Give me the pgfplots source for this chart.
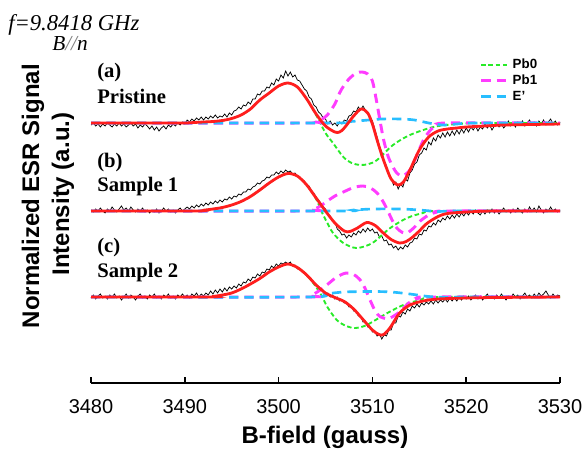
\documentclass[border=0pt]{standalone}
\usepackage{fontspec}
\setmainfont{Liberation Serif}
\setsansfont{Liberation Sans}
\usepackage{pgfplots}
\pgfplotsset{compat=1.18}
\definecolor{cred}{RGB}{255,30,30}
\definecolor{cgreen}{RGB}{40,235,40}
\definecolor{cmag}{RGB}{255,60,255}
\definecolor{ccyan}{RGB}{40,190,255}
\begin{document}
\begin{tikzpicture}[x=0.75pt,y=0.75pt]
\useasboundingbox (0,0) rectangle (588,451);
\begin{axis}[
  at={(68.25pt,51pt)}, anchor=south west,
  width=351.75pt, height=249.75pt, scale only axis,
  xmin=3480, xmax=3530, ymin=68, ymax=401,
  axis x line=bottom, axis y line=none,
  x axis line style={-, line width=1.6pt},
  xtick={3480,3490,3500,3510,3520,3530}, ytick=\empty,
  xtick align=inside, major tick length=4.5pt,
  every tick/.style={black, line width=1.3pt},
  /pgf/number format/assume math mode=true,
  /pgf/number format/1000 sep={},
  scaled x ticks=false,
  xticklabel style={font=\sffamily\fontsize{15}{18}\selectfont, yshift=-9pt},
  clip=false,
  legend style={draw=none, fill=none, at={(0.829,0.977)}, anchor=north west,
    inner sep=0pt, outer sep=0pt, column sep=1pt, row sep=1.4pt,
    font=\sffamily\bfseries\fontsize{10}{11}\selectfont,
    nodes={inner sep=0.5pt, text height=7.5pt, text depth=2pt}},
  legend cell align=left,
  legend image code/.code={\draw[#1] (0pt,0pt) -- (21pt,0pt);},
]
% ---------------- (a) Pristine ----------------
\addplot[forget plot, black, line width=0.55pt] coordinates {
(3480,326)(3480.25,328)(3480.5,325)(3480.75,327)(3481,324)(3481.25,327)(3481.5,325)(3481.75,328)
(3482,326)(3482.25,324)(3482.5,327)(3482.75,325)(3483,328)(3483.25,325)(3483.5,327)(3483.75,324)
(3484,326)(3484.25,328)(3484.5,325)(3484.75,327)(3485,323)(3485.25,326)(3485.5,324)(3485.75,327)
(3486,325)(3486.25,322)(3486.5,325)(3486.75,321)(3487,324)(3487.25,320)(3487.5,323)(3487.75,325)
(3488,322)(3488.25,326)(3488.5,324)(3488.75,327)(3489,325)(3489.25,328)(3489.5,326)(3489.75,329)
(3490,327)(3490.25,331)(3490.5,329)(3490.75,332)(3491,330)(3491.25,333)(3491.5,331)(3491.75,334)
(3492,331)(3492.25,334)(3492.5,332)(3492.75,335)(3493,333)(3493.25,336)(3493.5,333)(3493.75,335)
(3494,334)(3494.25,337)(3494.5,334)(3494.75,338)(3495,336)(3495.25,340)(3495.5,341)(3495.75,344)
(3496,342)(3496.25,346)(3496.5,345)(3496.75,349)(3497,347)(3497.25,352)(3497.5,352)(3497.75,357)
(3498,356)(3498.25,360)(3498.5,360)(3498.75,364)(3499,363)(3499.25,368)(3499.5,366)(3499.75,372)
(3500,370)(3500.25,376)(3500.5,373)(3500.75,380)(3501,375)(3501.25,379)(3501.5,374)(3501.75,376)
(3502,371)(3502.25,370)(3502.5,366)(3502.75,362)(3503,360)(3503.25,354)(3503.5,352)(3503.75,346)
(3504,344)(3504.25,339)(3504.5,337)(3504.75,333)(3505,332)(3505.25,327)(3505.5,330)(3505.75,326)
(3506,328)(3506.25,325)(3506.5,329)(3506.75,327)(3507,331)(3507.25,330)(3507.5,335)(3507.75,336)
(3508,340)(3508.25,339)(3508.5,344)(3508.75,341)(3509,345)(3509.25,341)(3509.5,339)(3509.75,334)
(3510,330)(3510.25,322)(3510.5,314)(3510.75,305)(3511,299)(3511.25,290)(3511.5,285)(3511.75,276)
(3512,273)(3512.25,266)(3512.5,269)(3512.75,262)(3513,267)(3513.25,264)(3513.5,272)(3513.75,270)
(3514,278)(3514.25,281)(3514.5,287)(3514.75,289)(3515,296)(3515.25,298)(3515.5,303)(3515.75,301)
(3516,309)(3516.25,306)(3516.5,313)(3516.75,310)(3517,316)(3517.25,313)(3517.5,318)(3517.75,314)
(3518,319)(3518.25,315)(3518.5,320)(3518.75,316)(3519,321)(3519.25,317)(3519.5,322)(3519.75,318)
(3520,323)(3520.25,319)(3520.5,324)(3520.75,321)(3521,325)(3521.25,320)(3521.5,324)(3521.75,322)
(3522,327)(3522.25,323)(3522.5,326)(3522.75,321)(3523,325)(3523.25,328)(3523.5,324)(3523.75,327)
(3524,323)(3524.25,326)(3524.5,330)(3524.75,325)(3525,328)(3525.25,324)(3525.5,329)(3525.75,326)
(3526,330)(3526.25,325)(3526.5,328)(3526.75,331)(3527,326)(3527.25,329)(3527.5,325)(3527.75,330)
(3528,327)(3528.25,331)(3528.5,326)(3528.75,329)(3529,332)(3529.25,327)(3529.5,330)(3529.75,326)
(3530,329)};
\addplot[cgreen, line width=1.4pt, dash pattern=on 3.4pt off 2pt, smooth, tension=0.5] coordinates {
(3480,328)(3490,328)(3491,328.5)(3492,329)(3493,329.5)(3494,330.5)(3495,332.5)(3496,336)(3497,342)
(3498,351)(3499,358)(3500,365)(3501,368)(3502,364)(3503,352)(3504,336)(3505,318)(3505.8,308)
(3506.9,294)(3507.8,288)(3508.7,286)(3509.6,287)(3510.5,291)(3512.2,306)(3514,316)(3516.5,324)
(3519,327)(3522,328)(3530,328)};
\addlegendentry{Pb0}
\addplot[cmag, line width=2.2pt, dash pattern=on 7pt off 4.5pt, smooth, tension=0.5] coordinates {
(3480,328)(3503,328)(3504,329)(3504.5,331)(3505.2,336)(3506,347)(3506.5,358)(3507,366)(3507.6,373)
(3508.3,378)(3508.9,379)(3509.5,377)(3510,370)(3510.4,352)(3510.8,331)(3511.2,311)(3511.7,294)
(3512.2,284)(3512.6,278)(3513.2,275)(3514,281)(3514.7,295)(3515.5,312)(3516.3,322)(3517,326)
(3518,328)(3530,328)};
\addlegendentry{Pb1}
\addplot[ccyan, line width=2pt, dash pattern=on 7pt off 4.5pt, smooth, tension=0.5] coordinates {
(3480,328)(3505,328)(3507,329)(3509,330.5)(3511,332)(3513,332)(3514.5,331)(3516,328)(3517.5,326)
(3519,327)(3521,328)(3530,328)};
\addlegendentry{E'}
\addplot[forget plot, cred, line width=2.1pt, smooth, tension=0.5] coordinates {
(3480,328)(3488,328)(3490,328)(3491,328.5)(3492,329)(3493,329.5)(3494,330.5)(3495,332.5)(3496,336)
(3497,342)(3498,351)(3499,358)(3500,365)(3501,368)(3502,364)(3503,352)(3504,337)(3505,325)
(3506,319)(3506.5,319)(3507,323)(3508,335)(3508.8,342)(3509.5,338)(3510,327)(3510.5,311)(3511,296)
(3511.5,283)(3512,272)(3512.7,266)(3513.3,269)(3514,281)(3515,301)(3516,314)(3517,320)(3518,322)
(3519,323)(3520,324)(3522,325)(3524,326)(3527,326.5)(3530,327)};
% ---------------- (b) Sample 1 ----------------
\addplot[forget plot, black, line width=0.55pt] coordinates {
(3480,241)(3480.25,239)(3480.5,242)(3480.75,240)(3481,243)(3481.25,240)(3481.5,238)(3481.75,242)
(3482,240)(3482.25,244)(3482.5,241)(3482.75,239)(3483,242)(3483.25,245)(3483.5,241)(3483.75,243)
(3484,240)(3484.25,244)(3484.5,241)(3484.75,239)(3485,242)(3485.25,240)(3485.5,243)(3485.75,239)
(3486,241)(3486.25,238)(3486.5,241)(3486.75,239)(3487,242)(3487.25,238)(3487.5,240)(3487.75,243)
(3488,240)(3488.25,242)(3488.5,239)(3488.75,241)(3489,238)(3489.25,241)(3489.5,243)(3489.75,240)
(3490,242)(3490.25,244)(3490.5,242)(3490.75,245)(3491,243)(3491.25,246)(3491.5,244)(3491.75,247)
(3492,245)(3492.25,248)(3492.5,246)(3492.75,249)(3493,247)(3493.25,250)(3493.5,248)(3493.75,251)
(3494,249)(3494.25,252)(3494.5,251)(3494.75,254)(3495,252)(3495.25,255)(3495.5,254)(3495.75,257)
(3496,256)(3496.25,259)(3496.5,259)(3496.75,262)(3497,261)(3497.25,264)(3497.5,265)(3497.75,268)
(3498,267)(3498.25,270)(3498.5,271)(3498.75,274)(3499,273)(3499.25,276)(3499.5,276)(3499.75,279)
(3500,277)(3500.25,280)(3500.5,278)(3500.75,281)(3501,279)(3501.25,280)(3501.5,277)(3501.75,278)
(3502,275)(3502.25,274)(3502.5,271)(3502.75,270)(3503,266)(3503.25,265)(3503.5,260)(3503.75,258)
(3504,254)(3504.25,251)(3504.5,248)(3504.75,244)(3505,242)(3505.25,237)(3505.5,235)(3505.75,230)
(3506,229)(3506.25,222)(3506.5,220)(3506.75,216)(3507,217)(3507.25,213)(3507.5,216)(3507.75,214)
(3508,218)(3508.25,216)(3508.5,220)(3508.75,218)(3509,222)(3509.25,219)(3509.5,223)(3509.75,220)
(3510,222)(3510.25,218)(3510.5,219)(3510.75,214)(3511,215)(3511.25,210)(3511.5,211)(3511.75,206)
(3512,207)(3512.25,203)(3512.5,205)(3512.75,201)(3513,204)(3513.25,202)(3513.5,206)(3513.75,204)
(3514,208)(3514.25,209)(3514.5,213)(3514.75,212)(3515,217)(3515.25,216)(3515.5,221)(3515.75,220)
(3516,225)(3516.25,224)(3516.5,228)(3516.75,226)(3517,231)(3517.25,229)(3517.5,233)(3517.75,231)
(3518,235)(3518.25,232)(3518.5,236)(3518.75,233)(3519,237)(3519.25,234)(3519.5,238)(3519.75,235)
(3520,239)(3520.25,236)(3520.5,240)(3520.75,237)(3521,241)(3521.25,238)(3521.5,236)(3521.75,240)
(3522,237)(3522.25,241)(3522.5,238)(3522.75,242)(3523,238)(3523.25,241)(3523.5,237)(3523.75,240)
(3524,243)(3524.25,239)(3524.5,241)(3524.75,238)(3525,242)(3525.25,239)(3525.5,243)(3525.75,240)
(3526,238)(3526.25,242)(3526.5,239)(3526.75,244)(3527,240)(3527.25,243)(3527.5,239)(3527.75,245)
(3528,241)(3528.25,238)(3528.5,242)(3528.75,240)(3529,244)(3529.25,240)(3529.5,242)(3529.75,239)
(3530,241)};
\addplot[forget plot, cgreen, line width=1.4pt, dash pattern=on 3.4pt off 2pt, smooth, tension=0.5] coordinates {
(3480,240)(3491,240)(3492,240.8)(3493,242)(3494,243.5)(3495,246)(3496,249.5)(3497,254.5)(3498,261)
(3499,268)(3500,274)(3501,277.5)(3502,275)(3503,266)(3504,252)(3504.6,239)(3505.2,228)(3505.8,218)
(3506.9,208)(3508.3,203)(3510,208)(3511.9,223)(3513.7,233)(3515.4,238)(3517,240)(3530,240)};
\addplot[forget plot, cmag, line width=2.2pt, dash pattern=on 7pt off 4.5pt, smooth, tension=0.5] coordinates {
(3480,240)(3503,240)(3503.5,241)(3504.3,244)(3505.2,250)(3506.1,255.5)(3506.9,259)(3508,263.5)
(3509,265)(3509.8,263)(3510.5,258)(3511.1,250)(3511.6,241)(3512.1,231)(3512.6,223)(3513.2,218.5)
(3513.7,218)(3514.4,223)(3515.1,230)(3516,236)(3516.9,239)(3518,240)(3530,240)};
\addplot[forget plot, ccyan, line width=2pt, dash pattern=on 7pt off 4.5pt, smooth, tension=0.5] coordinates {
(3480,240)(3506,240)(3508,241)(3510,242)(3513,242)(3515,241)(3517,239.5)(3519,240)(3530,240)};
\addplot[forget plot, cred, line width=2.1pt, smooth, tension=0.5] coordinates {
(3480,240)(3491,240)(3492,240.8)(3493,242)(3494,243.5)(3495,246)(3496,249.5)(3497,254.5)(3498,261)
(3499,268)(3500,274)(3501,277.5)(3502,275)(3503,266)(3504,253)(3505,240)(3506,228)(3507,220)
(3507.6,219.5)(3508.4,223)(3509.4,228.5)(3510.3,225.5)(3511.1,218.5)(3512,211.5)(3512.9,208)
(3513.6,209.5)(3514.3,214)(3515,220)(3515.8,227.5)(3517,234.5)(3518,237.5)(3520,239)(3523,240)(3530,240)};
% ---------------- (c) Sample 2 ----------------
\addplot[forget plot, black, line width=0.55pt] coordinates {
(3480,153)(3480.25,156)(3480.5,152)(3480.75,155)(3481,157)(3481.25,153)(3481.5,155)(3481.75,152)
(3482,156)(3482.25,154)(3482.5,157)(3482.75,153)(3483,155)(3483.25,151)(3483.5,154)(3483.75,157)
(3484,153)(3484.25,156)(3484.5,154)(3484.75,151)(3485,155)(3485.25,157)(3485.5,153)(3485.75,155)
(3486,152)(3486.25,156)(3486.5,154)(3486.75,157)(3487,153)(3487.25,155)(3487.5,152)(3487.75,156)
(3488,154)(3488.25,157)(3488.5,153)(3488.75,155)(3489,152)(3489.25,156)(3489.5,154)(3489.75,157)
(3490,154)(3490.25,156)(3490.5,153)(3490.75,157)(3491,155)(3491.25,158)(3491.5,154)(3491.75,157)
(3492,155)(3492.25,158)(3492.5,156)(3492.75,160)(3493,157)(3493.25,161)(3493.5,158)(3493.75,162)
(3494,159)(3494.25,163)(3494.5,160)(3494.75,164)(3495,162)(3495.25,165)(3495.5,163)(3495.75,167)
(3496,165)(3496.25,169)(3496.5,168)(3496.75,172)(3497,170)(3497.25,174)(3497.5,173)(3497.75,177)
(3498,175)(3498.25,179)(3498.5,178)(3498.75,182)(3499,181)(3499.25,185)(3499.5,183)(3499.75,187)
(3500,185)(3500.25,188)(3500.5,187)(3500.75,189)(3501,187)(3501.25,189)(3501.5,185)(3501.75,186)
(3502,182)(3502.25,183)(3502.5,179)(3502.75,179)(3503,175)(3503.25,174)(3503.5,170)(3503.75,169)
(3504,165)(3504.25,165)(3504.5,161)(3504.75,161)(3505,157)(3505.25,158)(3505.5,154)(3505.75,156)
(3506,152)(3506.25,154)(3506.5,150)(3506.75,151)(3507,148)(3507.25,149)(3507.5,144)(3507.75,145)
(3508,140)(3508.25,140)(3508.5,135)(3508.75,135)(3509,129)(3509.25,130)(3509.5,124)(3509.75,124)
(3510,119)(3510.25,120)(3510.5,115)(3510.75,117)(3511,112)(3511.25,116)(3511.5,115)(3511.75,121)
(3512,121)(3512.25,128)(3512.5,128)(3512.75,135)(3513,134)(3513.25,139)(3513.5,137)(3513.75,142)
(3514,140)(3514.25,145)(3514.5,143)(3514.75,147)(3515,144)(3515.25,148)(3515.5,146)(3515.75,149)
(3516,147)(3516.25,150)(3516.5,147)(3516.75,151)(3517,148)(3517.25,151)(3517.5,149)(3517.75,152)
(3518,149)(3518.25,153)(3518.5,150)(3518.75,153)(3519,150)(3519.25,154)(3519.5,151)(3519.75,155)
(3520,152)(3520.25,155)(3520.5,151)(3520.75,154)(3521,156)(3521.25,152)(3521.5,155)(3521.75,151)
(3522,154)(3522.25,157)(3522.5,153)(3522.75,155)(3523,152)(3523.25,156)(3523.5,153)(3523.75,157)
(3524,154)(3524.25,151)(3524.5,155)(3524.75,153)(3525,157)(3525.25,154)(3525.5,156)(3525.75,152)
(3526,155)(3526.25,158)(3526.5,154)(3526.75,156)(3527,153)(3527.25,157)(3527.5,154)(3527.75,158)
(3528,155)(3528.25,157)(3528.5,160)(3528.75,156)(3529,153)(3529.25,157)(3529.5,154)(3529.75,156)
(3530,155)};
\addplot[forget plot, cgreen, line width=1.4pt, dash pattern=on 3.4pt off 2pt, smooth, tension=0.5] coordinates {
(3480,154)(3492,154)(3493,154.5)(3494,156)(3495,158)(3496,162)(3497,167)(3498,172.5)(3499,179)
(3500,184)(3501,187)(3502,183.5)(3503,176)(3504,164)(3504.6,155)(3505.2,144)(3506.2,131)(3507.2,125)
(3508.1,123)(3509,124.5)(3509.7,127.5)(3511.6,138)(3513.3,146)(3515.1,151)(3517,154)(3530,154)};
\addplot[forget plot, cmag, line width=2.2pt, dash pattern=on 7pt off 4.5pt, smooth, tension=0.5] coordinates {
(3480,154)(3503,154)(3503.4,155)(3504.2,159.5)(3505.2,166.5)(3506.2,174)(3507.2,178)(3508,176.5)
(3508.7,171)(3509.2,163)(3509.7,152)(3510.3,140)(3510.8,134.5)(3511.4,132.5)(3511.9,133)(3512.9,139)
(3514,149)(3515,153)(3516,154)(3530,154)};
\addplot[forget plot, ccyan, line width=2pt, dash pattern=on 7pt off 4.5pt, smooth, tension=0.5] coordinates {
(3480,154)(3503,154)(3505,157)(3507,159)(3510,159.5)(3512,159)(3514,157)(3516,154.5)(3518,153.5)
(3520,154)(3530,154)};
\addplot[forget plot, cred, line width=2.1pt, smooth, tension=0.5] coordinates {
(3480,154)(3492,154)(3493,154.5)(3494,156)(3495,158)(3496,162)(3497,167)(3498,172.5)(3499,179)
(3500,184)(3501,187)(3502,183.5)(3503,176)(3504,166)(3505,158)(3506,153.5)(3507,149.5)(3508,142)
(3509,131.5)(3510,121)(3510.7,116.5)(3511.2,116.5)(3511.9,123.5)(3512.9,138)(3514,146)(3515.4,150)
(3517,152)(3520,153)(3523,153.5)(3530,154)};
\end{axis}
% titles and labels, in picture units (1 unit = 1 px of the reference)
\node[anchor=base west, inner sep=0pt, font=\itshape\fontsize{17}{20}\selectfont] at (8,421) {f=9.8418 GHz};
\node[anchor=base west, inner sep=0pt, font=\itshape\fontsize{16}{19}\selectfont] at (52,401) {B{\color{gray}//}n};
\node[anchor=base west, inner sep=0pt, font=\bfseries\fontsize{15.5}{18}\selectfont] at (97,374) {(a)};
\node[anchor=base west, inner sep=0pt, font=\bfseries\fontsize{15.5}{18}\selectfont] at (97,348) {Pristine};
\node[anchor=base west, inner sep=0pt, font=\bfseries\fontsize{15.5}{18}\selectfont] at (97,284) {(b)};
\node[anchor=base west, inner sep=0pt, font=\bfseries\fontsize{15.5}{18}\selectfont] at (97,260) {Sample 1};
\node[anchor=base west, inner sep=0pt, font=\bfseries\fontsize{15.5}{18}\selectfont] at (97,199) {(c)};
\node[anchor=base west, inner sep=0pt, font=\bfseries\fontsize{15.5}{18}\selectfont] at (97,174) {Sample 2};
\node[rotate=90, inner sep=0pt, font=\sffamily\bfseries\fontsize{18}{21}\selectfont] at (33,255) {Normalized ESR Signal};
\node[rotate=90, inner sep=0pt, font=\sffamily\bfseries\fontsize{18}{21}\selectfont] at (63,257) {Intensity (a.u.)};
\node[inner sep=0pt, font=\sffamily\bfseries\fontsize{18}{21}\selectfont] at (325,14) {B-field (gauss)};
\end{tikzpicture}
\end{document}
